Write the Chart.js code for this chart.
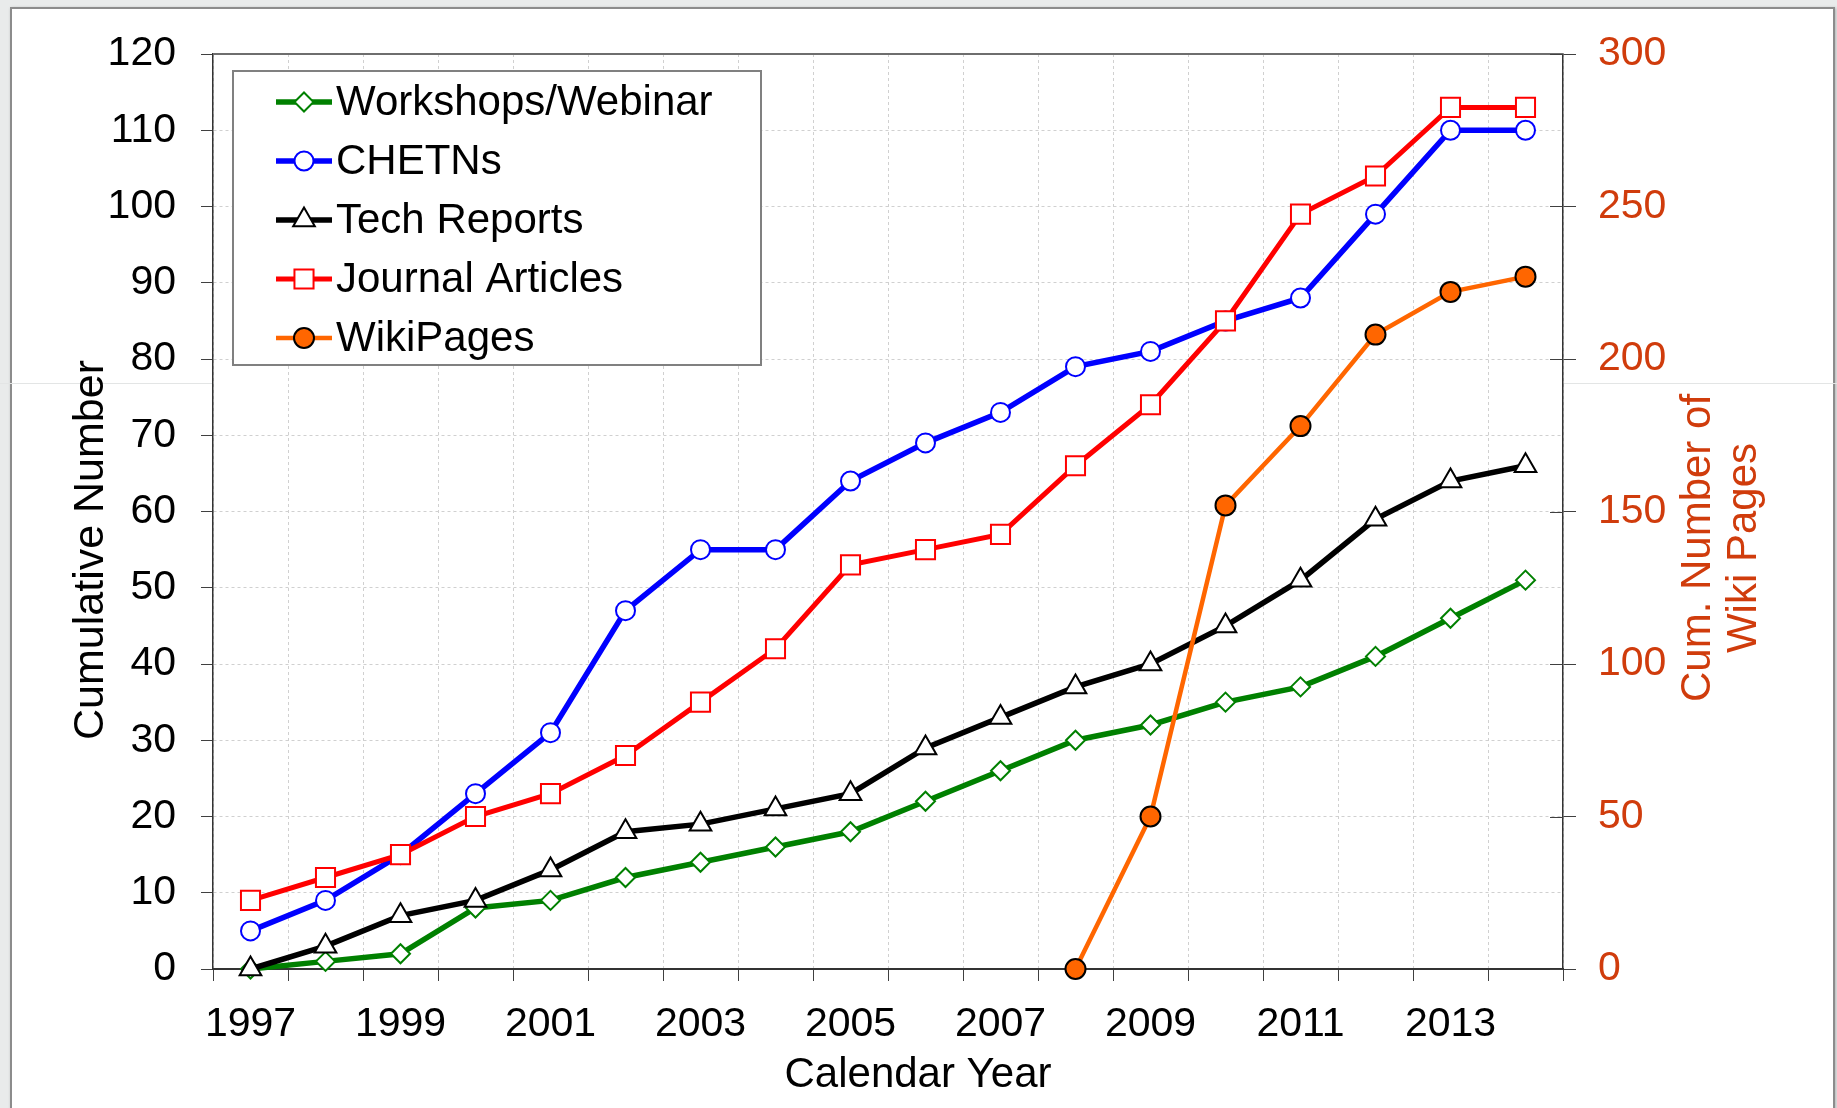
<!DOCTYPE html>
<html>
<head>
<meta charset="utf-8">
<title>Cumulative Number</title>
<script src="https://cdn.jsdelivr.net/npm/chart.js@4.4.1/dist/chart.umd.min.js"></script>
<style>
    html, body { margin: 0; padding: 0; background: #e9ebeb; }
    #wrap { position: relative; width: 1837px; height: 1108px; overflow: hidden; }
    #panel { position: absolute; left: 10px; top: 7px; width: 1821px; height: 1130px; background: #fff; border: 2px solid #8c8c8c; box-shadow: 1px 1px 3px rgba(0,0,0,0.25); }
    #seam { position: absolute; left: 0; top: 383px; width: 1837px; height: 1px; background: #e3e5e5; }
    #chart { position: absolute; left: 0; top: 0; }
</style>
</head>
<body>
<div id="wrap">
    <div id="panel"></div>
    <div id="seam"></div>
    <canvas id="chart" width="1837" height="1108"></canvas>
</div>
<script>
// --- 1. DATA ---
const years = ['1997', '1998', '1999', '2000', '2001', '2002', '2003', '2004', '2005',
               '2006', '2007', '2008', '2009', '2010', '2011', '2012', '2013', '2014'];
const workshops       = [0, 1, 2, 8, 9, 12, 14, 16, 18, 22, 26, 30, 32, 35, 37, 41, 46, 51];
const chetns          = [5, 9, 15, 23, 31, 47, 55, 55, 64, 69, 73, 79, 81, 85, 88, 99, 110, 110];
const techReports     = [0, 3, 7, 9, 13, 18, 19, 21, 23, 29, 33, 37, 40, 45, 51, 59, 64, 66];
const journalArticles = [9, 12, 15, 20, 23, 28, 35, 42, 53, 55, 57, 66, 74, 85, 99, 104, 113, 113];
const wikiPages       = [null, null, null, null, null, null, null, null, null, null, null,
                         0, 50, 152, 178, 208, 222, 227];

const FONT = 'Liberation Sans, Arial, sans-serif';
const WIKI_AXIS = '#d03c0c';
const GRID = '#d0d0d0';
const AXIS = '#333333';

// series styles (shared by datasets and the legend)
const series = [
    { label: 'Workshops/Webinar', data: workshops,       color: '#008000', fill: '#ffffff', style: 'rectRot',  radius: 9.5,  axis: 'y',  width: 5.5 },
    { label: 'CHETNs',            data: chetns,          color: '#0000ff', fill: '#ffffff', style: 'circle',   radius: 9.5,  axis: 'y',  width: 5.5 },
    { label: 'Tech Reports',      data: techReports,     color: '#000000', fill: '#ffffff', style: 'triangle', radius: 12.5, axis: 'y',  width: 5.5 },
    { label: 'Journal Articles',  data: journalArticles, color: '#ff0000', fill: '#ffffff', style: 'rect',     radius: 13.5, axis: 'y',  width: 5 },
    { label: 'WikiPages',         data: wikiPages,       color: '#ff6600', fill: '#ff6600', style: 'circle',   radius: 10,   axis: 'y1', width: 4.5, edge: '#000000' }
];

// --- 2. DECORATIONS: plot frame, axis titles, in-plot legend ---
function drawMarker(ctx, s, x, y) {
    const r = s.radius;
    ctx.save();
    ctx.beginPath();
    if (s.style === 'circle') {
        ctx.arc(x, y, r, 0, Math.PI * 2);
    } else if (s.style === 'rect') {
        const h = r * Math.SQRT1_2;
        ctx.rect(x - h, y - h, 2 * h, 2 * h);
    } else if (s.style === 'rectRot') {
        ctx.moveTo(x - r, y); ctx.lineTo(x, y - r); ctx.lineTo(x + r, y); ctx.lineTo(x, y + r);
        ctx.closePath();
    } else if (s.style === 'triangle') {
        const a = 2 * Math.PI / 3;
        ctx.moveTo(x, y - r);
        ctx.lineTo(x + Math.sin(a) * r, y - Math.cos(a) * r);
        ctx.lineTo(x + Math.sin(2 * a) * r, y - Math.cos(2 * a) * r);
        ctx.closePath();
    }
    ctx.fillStyle = s.fill;
    ctx.fill();
    ctx.lineWidth = 2;
    ctx.strokeStyle = s.edge || s.color;
    ctx.stroke();
    ctx.restore();
}

const chartDecor = {
    id: 'chartDecor',
    beforeDraw(chart) {
        const { ctx, chartArea: a } = chart;
        ctx.save();
        ctx.fillStyle = '#ffffff';
        ctx.fillRect(a.left, a.top, a.right - a.left, a.bottom - a.top);
        ctx.restore();
    },
    afterDraw(chart) {
        const { ctx, chartArea: a } = chart;
        const y1 = chart.scales.y1;
        ctx.save();

        // top edge of plot frame
        ctx.strokeStyle = '#6e6e6e';
        ctx.lineWidth = 2;
        ctx.beginPath();
        ctx.moveTo(a.left, a.top);
        ctx.lineTo(a.right, a.top);
        ctx.stroke();

        // right axis ticks cross the axis line
        ctx.strokeStyle = '#404040';
        ctx.lineWidth = 1;
        y1.ticks.forEach(t => {
            const py = Math.round(y1.getPixelForValue(t.value)) + 0.5;
            ctx.beginPath();
            ctx.moveTo(a.right - 13, py);
            ctx.lineTo(a.right, py);
            ctx.stroke();
        });

        // axis titles
        ctx.fillStyle = '#000000';
        ctx.textAlign = 'center';
        ctx.textBaseline = 'alphabetic';
        ctx.font = '43px ' + FONT;
        ctx.save();
        ctx.translate(103, 550);
        ctx.rotate(-Math.PI / 2);
        ctx.fillText('Cumulative Number', 0, 0);
        ctx.restore();

        ctx.font = '42px ' + FONT;
        ctx.fillText('Calendar Year', 918, 1087);

        ctx.fillStyle = WIKI_AXIS;
        ctx.save();
        ctx.translate(1710, 548);
        ctx.rotate(-Math.PI / 2);
        ctx.fillText('Cum. Number of', 0, 0);
        ctx.fillText('Wiki Pages', 0, 46);
        ctx.restore();

        // legend box
        ctx.fillStyle = '#ffffff';
        ctx.fillRect(233, 71, 528, 294);
        ctx.strokeStyle = '#808080';
        ctx.lineWidth = 2;
        ctx.strokeRect(233, 71, 528, 294);

        ctx.font = '42px ' + FONT;
        ctx.textAlign = 'left';
        ctx.textBaseline = 'middle';
        series.forEach((s, i) => {
            const ry = 102 + i * 59;
            ctx.strokeStyle = s.color;
            ctx.lineWidth = s.width;
            ctx.beginPath();
            ctx.moveTo(276, ry);
            ctx.lineTo(332, ry);
            ctx.stroke();
            drawMarker(ctx, s, 304, ry);
            ctx.fillStyle = '#000000';
            ctx.fillText(s.label, 336, ry + 1);
        });
        ctx.restore();
    }
};

// --- 3. CHART ---
const ctx = document.getElementById('chart').getContext('2d');
const chart = new Chart(ctx, {
    type: 'line',
    data: {
        labels: years,
        datasets: series.map((s, i) => ({
            label: s.label,
            data: s.data,
            yAxisID: s.axis,
            borderColor: s.color,
            borderWidth: s.width,
            backgroundColor: s.fill,
            pointStyle: s.style,
            pointRadius: s.radius,
            pointBorderWidth: 2,
            pointBorderColor: s.edge || s.color,
            pointBackgroundColor: s.fill,
            tension: 0,
            spanGaps: false,
            clip: false,
            order: series.length - 1 - i // later series on top, like the original
        }))
    },
    options: {
        responsive: false,
        animation: false,
        devicePixelRatio: 1,
        layout: { padding: { top: 54, left: 0, right: 0, bottom: 0 } },
        plugins: { legend: { display: false }, tooltip: { enabled: false } },
        scales: {
            x: {
                type: 'category',
                offset: true,
                grid: { offset: true, color: GRID, lineWidth: 1, tickLength: 12, tickColor: '#404040' },
                border: { color: AXIS, width: 2, dash: [3, 3] },
                ticks: {
                    autoSkip: false, maxRotation: 0, minRotation: 0,
                    padding: 19, color: '#000000', font: { family: FONT, size: 41 },
                    callback: (v, i) => (i % 2 === 0 ? years[i] : '')
                },
                afterFit: s => { s.height = 139; }
            },
            y: {
                position: 'left',
                min: 0, max: 120,
                grid: { color: GRID, lineWidth: 1, tickLength: 12, tickColor: '#404040' },
                border: { color: AXIS, width: 1.5, dash: [3, 3] },
                ticks: { stepSize: 10, padding: 25, color: '#000000', font: { family: FONT, size: 41 } },
                afterFit: s => { s.width = 213; }
            },
            y1: {
                position: 'right',
                min: 0, max: 300,
                grid: { drawOnChartArea: false, tickLength: 13, tickColor: '#404040' },
                border: { color: AXIS, width: 1.5 },
                ticks: { stepSize: 50, padding: 22, color: WIKI_AXIS, font: { family: FONT, size: 41 } },
                afterFit: s => { s.width = 274; }
            }
        }
    },
    plugins: [chartDecor]
});
</script>
</body>
</html>
